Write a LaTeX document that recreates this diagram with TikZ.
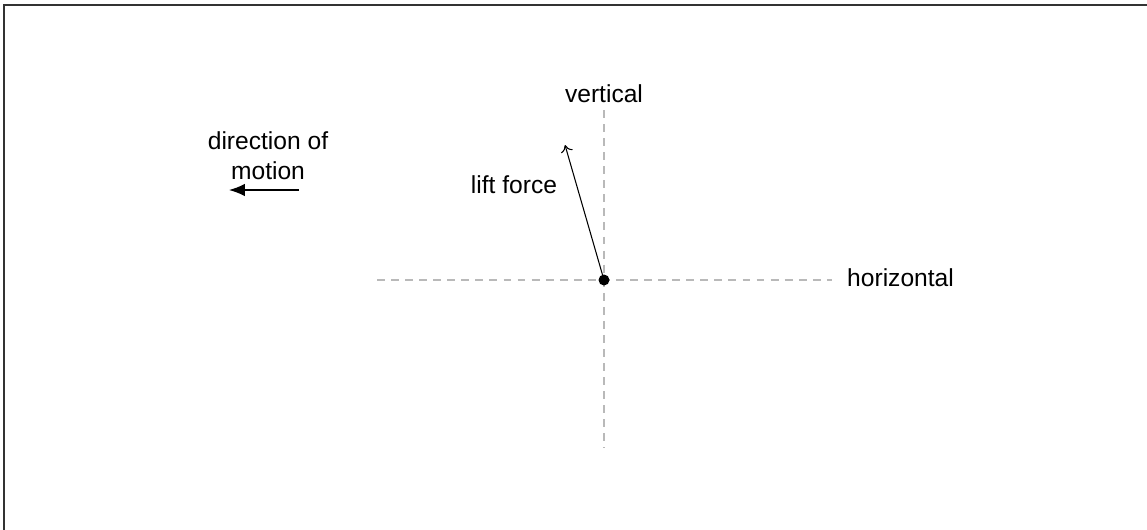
\documentclass[tikz,border=0pt]{standalone}
\usepackage{fontspec}
\setmainfont{Liberation Sans}
\usepackage{xcolor}
\usepackage{tikz}
\usetikzlibrary{arrows.meta}

\begin{document}
\begin{tikzpicture}[font=\fontsize{14}{17}\selectfont,
		axisline/.style={gray!55, dash pattern=on 4.5pt off 3.5pt, line width=0.7pt}]
				\useasboundingbox (0, 0) rectangle (22.94, -10.58);
				
				%Frame
				\draw[gray!40!black, line width=1.6pt] (0.08, -10.7) -- (0.08, -0.1) -- (23.1, -0.1);
				
				%Axes
				\coordinate (hleft) at (7.54, -5.6);
				\coordinate (hright) at (16.64, -5.6);
				\coordinate (vtop) at (12.08, -2.2);
				\coordinate (vbottom) at (12.08, -8.96);
				\draw[axisline] (hleft) -- (hright);
				\draw[axisline] (vtop) -- (vbottom);
				
				%Point
				\node[circle, fill=black, inner sep=0pt, minimum size=0.22cm] (pt) at (12.08, -5.6) {};
				
				%Labels
				\node (vlabel) at (12.08, -1.88) {vertical};
				\node[right] (hlabel) at (16.82, -5.56) {horizontal};
				\node (liftlabel) at (10.28, -3.7) {lift force};
				\node[align=center] (dirlabel) at (5.36, -3.12) {direction of\\motion};
				
				%Lift force
				\coordinate (lifttip) at (11.3, -2.9);
				\draw[-{To[length=4pt, width=7pt]}, line width=0.6pt] (pt.center) -- (lifttip);
				
				%Motion
				\coordinate (motstart) at (5.98, -3.8);
				\coordinate (motend) at (4.58, -3.8);
				\draw[-{Latex[length=9pt, width=7pt]}, line width=0.7pt] (motstart) -- (motend);
			\end{tikzpicture}
\end{document}
